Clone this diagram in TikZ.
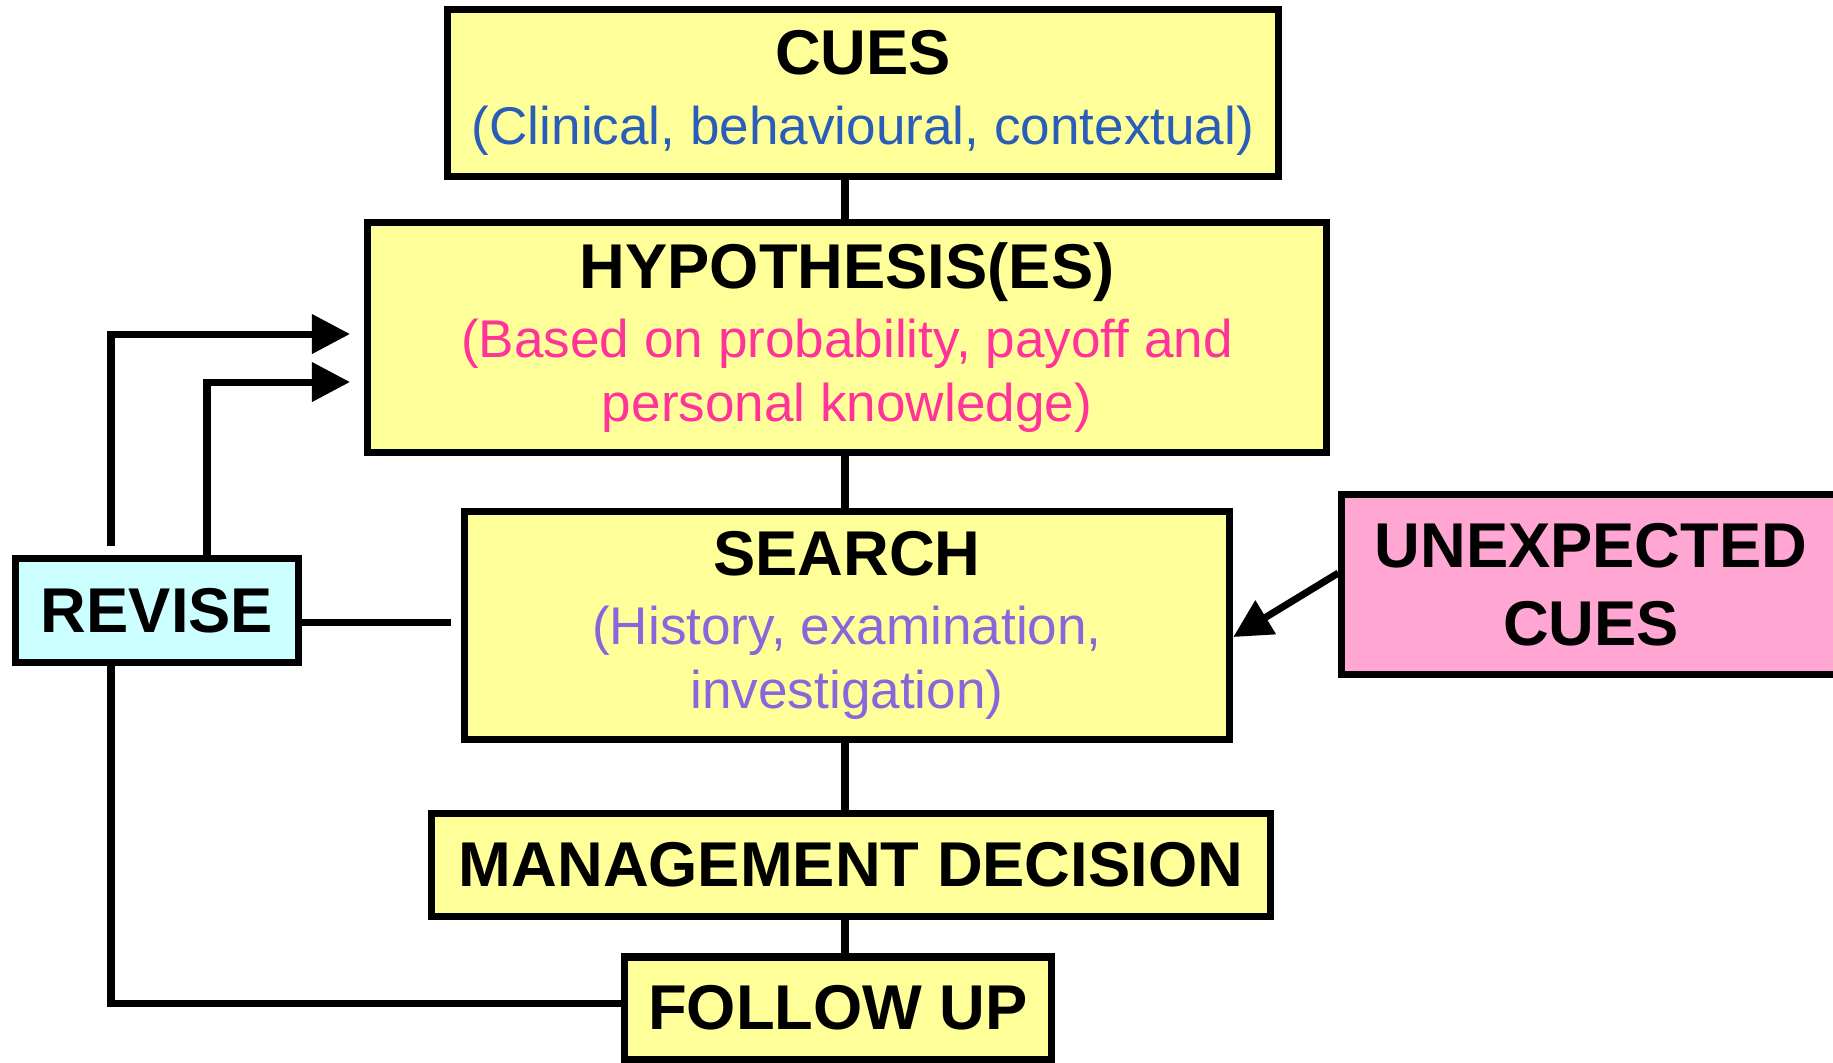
\documentclass[tikz,border=0pt]{standalone}
\usepackage{fontspec}
\setmainfont{Liberation Sans}
\usetikzlibrary{arrows.meta}

\definecolor{boxYellow}{HTML}{FFFF99}
\definecolor{cueBlue}{HTML}{2A5DB8}
\definecolor{hypPink}{HTML}{FF3399}
\definecolor{searchPurple}{HTML}{8A66DD}
\definecolor{unexPink}{HTML}{FFA6D3}
\definecolor{reviseCyan}{HTML}{CCFFFF}

\newcommand{\ttl}[1]{{\bfseries\fontsize{18pt}{19pt}\selectfont #1}}

\begin{document}
\begin{tikzpicture}[
    x=0.01cm, y=-0.01cm,
    box/.style={draw, line width=2pt, fill=boxYellow, align=center,
        inner sep=0pt, font=\fontsize{15.1pt}{18.2pt}\selectfont},
    link/.style={line width=2pt},
    arr/.style={line width=2pt, -{Triangle[length=0.38cm, width=0.38cm]}},
]
\useasboundingbox (0,0) rectangle (1833,1062);
\clip (0,0) rectangle (1833,1062);

% Main column
\node[box, minimum width=8.30cm, minimum height=1.67cm] (cues) at (863,93)
    {\ttl{CUES}\\[1.5pt] \color{cueBlue}(Clinical, behavioural, contextual)};
\node[box, minimum width=9.59cm, minimum height=2.30cm] (hyp) at (847,337.5)
    {\ttl{HYPOTHESIS(ES)}\\[1.5pt] \color{hypPink}(Based on probability, payoff and\\
    \color{hypPink}personal knowledge)};
\node[box, minimum width=7.65cm, minimum height=2.28cm] (search) at (847,625.5)
    {\ttl{SEARCH}\\[1.5pt] \color{searchPurple}(History, examination,\\
    \color{searchPurple}investigation)};
\node[box, minimum width=8.39cm, minimum height=1.03cm] (mgmt) at (851,865)
    {\ttl{MANAGEMENT DECISION}};
\node[box, minimum width=4.27cm, minimum height=1.02cm] (follow) at (838,1008)
    {\ttl{FOLLOW UP}};

% Side boxes
\node[box, fill=unexPink, minimum width=4.98cm, minimum height=1.80cm] (unexp)
    at (1591,584.5) {\ttl{UNEXPECTED}\\[4pt] \ttl{CUES}};
\node[box, fill=reviseCyan, minimum width=2.83cm, minimum height=1.04cm] (revise)
    at (157,610.5) {\ttl{REVISE}};

% Spine connectors
\coordinate (spine) at (845,0);
\draw[link] (cues.south -| spine) -- (hyp.north -| spine);
\draw[link] (hyp.south -| spine) -- (search.north -| spine);
\draw[link] (search.south -| spine) -- (mgmt.north -| spine);
\draw[link] (mgmt.south -| spine) -- (follow.north -| spine);

% Revise loop
\coordinate (revgap) at (451,622);
\coordinate (hypin1) at (350,334);
\coordinate (hypin2) at (350,382);
\draw[link] (revise.east |- revgap) -- (revgap);
\draw[arr] (111,546) |- (hypin1);
\draw[arr] (revise.north -| 207,0) |- (hypin2);
\draw[link] (revise.south -| 111,0) |- (follow.west |- 0,1003);

% Unexpected cues
\draw[arr] (unexp.west |- 0,573) -- (search.east |- 0,637);

\end{tikzpicture}
\end{document}
